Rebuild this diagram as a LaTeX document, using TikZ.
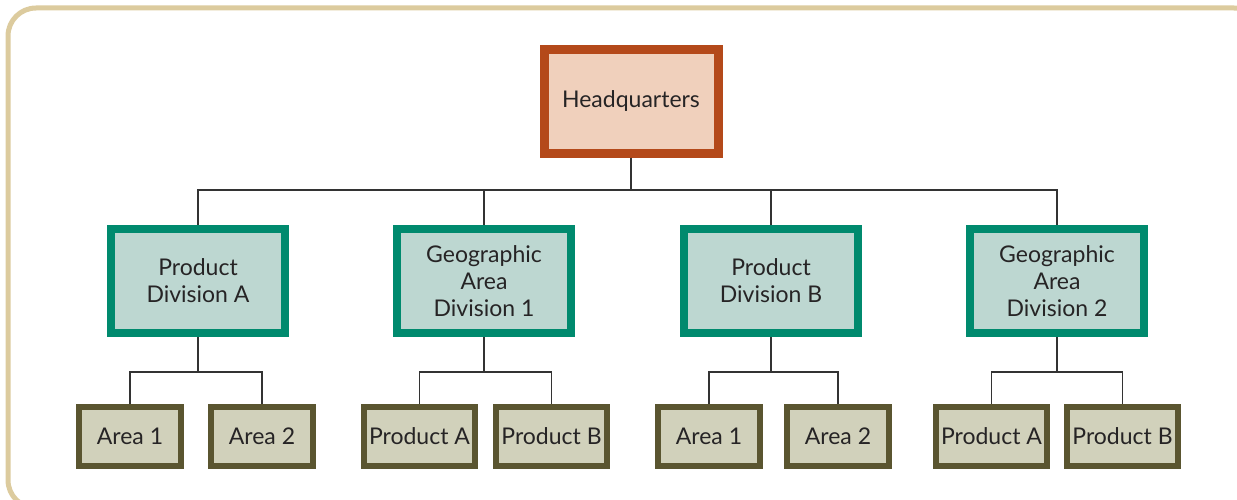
\documentclass[tikz,border=0pt]{standalone}
\usepackage{fontspec}
\setmainfont{Lato}
\definecolor{framec}{HTML}{DCCB9E}
\definecolor{hqborder}{HTML}{B4491A}
\definecolor{hqfill}{HTML}{F0D0BC}
\definecolor{divborder}{HTML}{008A6E}
\definecolor{divfill}{HTML}{BDD7D1}
\definecolor{leafborder}{HTML}{5A5530}
\definecolor{leaffill}{HTML}{D1D1BB}
\definecolor{txt}{HTML}{262425}
\definecolor{linec}{HTML}{333333}
\tikzset{
  basebox/.style={inner sep=0pt, align=center, text=txt, font=\fontsize{23}{27}\selectfont},
  hqbox/.style={basebox, draw=hqborder, fill=hqfill, line width=9pt, minimum width=174pt, minimum height=104pt},
  divbox/.style={basebox, draw=divborder, fill=divfill, line width=8pt, minimum width=174pt, minimum height=104pt},
  areabox/.style={basebox, draw=leafborder, fill=leaffill, line width=6pt, minimum width=102pt, minimum height=59pt},
  prodbox/.style={areabox, minimum width=111pt},
  conn/.style={draw=linec, line width=1.2pt},
  framebox/.style={draw=framec, line width=5pt, rounded corners=28pt}
}
\begin{document}
\begin{tikzpicture}[x=1pt, y=-1pt]
\useasboundingbox (0,0) rectangle (1237,500);
\clip (0,0) rectangle (1237,500);
\draw[framebox] (8,8) rectangle (1262,508);

\node[hqbox] (hq) at (631,101.5) {Headquarters};

\node[divbox] (pda) at (198,281) {Product\\Division A};
\node[divbox] (ga1) at (484,281) {Geographic\\Area\\Division 1};
\node[divbox] (pdb) at (771,281) {Product\\Division B};
\node[divbox] (ga2) at (1057,281) {Geographic\\Area\\Division 2};

\node[areabox] (a1) at (130,436.5) {Area 1};
\node[areabox] (a2) at (262,436.5) {Area 2};
\node[prodbox] (p1a) at (419.5,436.5) {Product A};
\node[prodbox] (p1b) at (551.5,436.5) {Product B};
\node[areabox] (a3) at (709,436.5) {Area 1};
\node[areabox] (a4) at (838,436.5) {Area 2};
\node[prodbox] (p2a) at (991.5,436.5) {Product A};
\node[prodbox] (p2b) at (1122.5,436.5) {Product B};

\foreach \d in {pda,ga1,pdb,ga2}
  \draw[conn] (hq.south) -- ++(0,32) -| (\d.north);

\draw[conn] (pda.south) -- ++(0,35) -| (a1.north);
\draw[conn] (pda.south) -- ++(0,35) -| (a2.north);
\draw[conn] (ga1.south) -- ++(0,35) -| (p1a.north);
\draw[conn] (ga1.south) -- ++(0,35) -| (p1b.north);
\draw[conn] (pdb.south) -- ++(0,35) -| (a3.north);
\draw[conn] (pdb.south) -- ++(0,35) -| (a4.north);
\draw[conn] (ga2.south) -- ++(0,35) -| (p2a.north);
\draw[conn] (ga2.south) -- ++(0,35) -| (p2b.north);
\end{tikzpicture}
\end{document}
